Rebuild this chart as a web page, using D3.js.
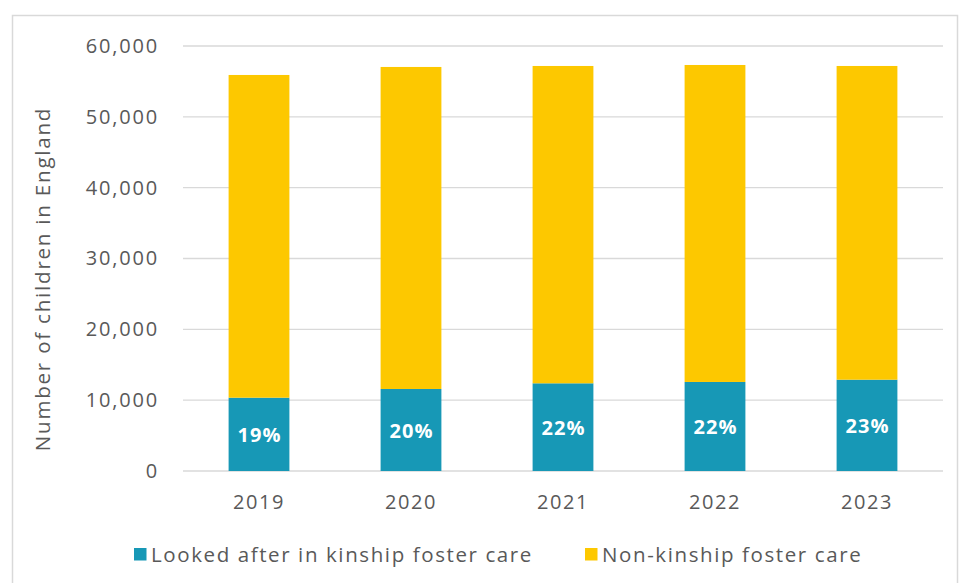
<!DOCTYPE html>
<html><head><meta charset="utf-8">
<script src="https://cdn.jsdelivr.net/npm/d3@7"></script>
<style>body{margin:0;background:#fff;} text{font-family:"Open Sans",Lato,sans-serif;}</style>
</head><body>
<svg id="c" width="959" height="583"></svg>
<script>
const years = ["2019","2020","2021","2022","2023"];
const kinship = [10350, 11580, 12380, 12570, 12890];
const nonKinship = [45560, 45460, 44800, 44750, 44290];
const pctLabels = ["19%","20%","22%","22%","23%"];
const yTicks = [0,10000,20000,30000,40000,50000,60000];
const seriesNames = ["Looked after in kinship foster care","Non-kinship foster care"];
const colors = ["#1798B6","#FDC800"];

const svg = d3.select("#c");
svg.append("rect").attr("x",12.5).attr("y",15.5).attr("width",945).attr("height",600)
  .attr("fill","none").attr("stroke","#d9d9d9").attr("stroke-width",1.5);

const x = d3.scaleBand().domain(years).range([183,943]).paddingInner(0.6).paddingOuter(0.3);
const y = d3.scaleLinear().domain([0,60000]).range([471,46]);

const grid = svg.append("g");
grid.selectAll("line").data(yTicks).join("line")
  .attr("x1",183).attr("x2",943).attr("y1",d=>y(d)).attr("y2",d=>y(d))
  .attr("stroke","#d9d9d9").attr("stroke-width",1.3);

const yAxis = svg.append("g").attr("transform","translate(183,0)")
  .call(d3.axisLeft(y).tickValues(yTicks).tickFormat(d3.format(",")).tickSize(0).tickPadding(24));
yAxis.select(".domain").remove();
yAxis.selectAll("text").attr("fill","#595959").style("font-size","20px").style("letter-spacing","1.8px");

const stackData = years.map((yr,i)=>({year:yr,k:kinship[i],n:nonKinship[i]}));
const stacked = d3.stack().keys(["k","n"])(stackData);
svg.append("g").selectAll("g").data(stacked).join("g").attr("fill",(d,i)=>colors[i])
  .selectAll("rect").data(d=>d).join("rect")
  .attr("x",d=>x(d.data.year)).attr("width",x.bandwidth())
  .attr("y",d=>y(d[1])).attr("height",d=>y(d[0])-y(d[1]));

svg.append("g").selectAll("text").data(stackData).join("text")
  .attr("x",d=>x(d.year)+x.bandwidth()/2+0.5).attr("y",d=>y(d.k/2)+1)
  .attr("dy","0.35em").attr("text-anchor","middle").attr("fill","#fff")
  .style("font-size","20px").style("font-weight","bold").style("letter-spacing","1px")
  .text((d,i)=>pctLabels[i]);

const xAxis = svg.append("g").attr("transform","translate(0,471)")
  .call(d3.axisBottom(x).tickSize(0).tickPadding(24));
xAxis.select(".domain").remove();
xAxis.selectAll("text").attr("fill","#595959").style("font-size","20px").style("letter-spacing","1.6px");

svg.append("text").attr("transform","translate(50,279) rotate(-90)")
  .attr("text-anchor","middle").attr("fill","#595959").style("font-size","20.5px").style("letter-spacing","1.8px")
  .text("Number of children in England");

const legX = [134, 585];
const leg = svg.append("g").selectAll("g").data(seriesNames).join("g")
  .attr("transform",(d,i)=>`translate(${legX[i]},548)`);
leg.append("rect").attr("width",12.5).attr("height",12.5).attr("fill",(d,i)=>colors[i]);
leg.append("text").attr("x",17).attr("y",6.5).attr("dy","0.35em").attr("fill","#595959")
  .style("font-size","20.5px").style("letter-spacing","1.6px").text(d=>d);
</script>
</body></html>
